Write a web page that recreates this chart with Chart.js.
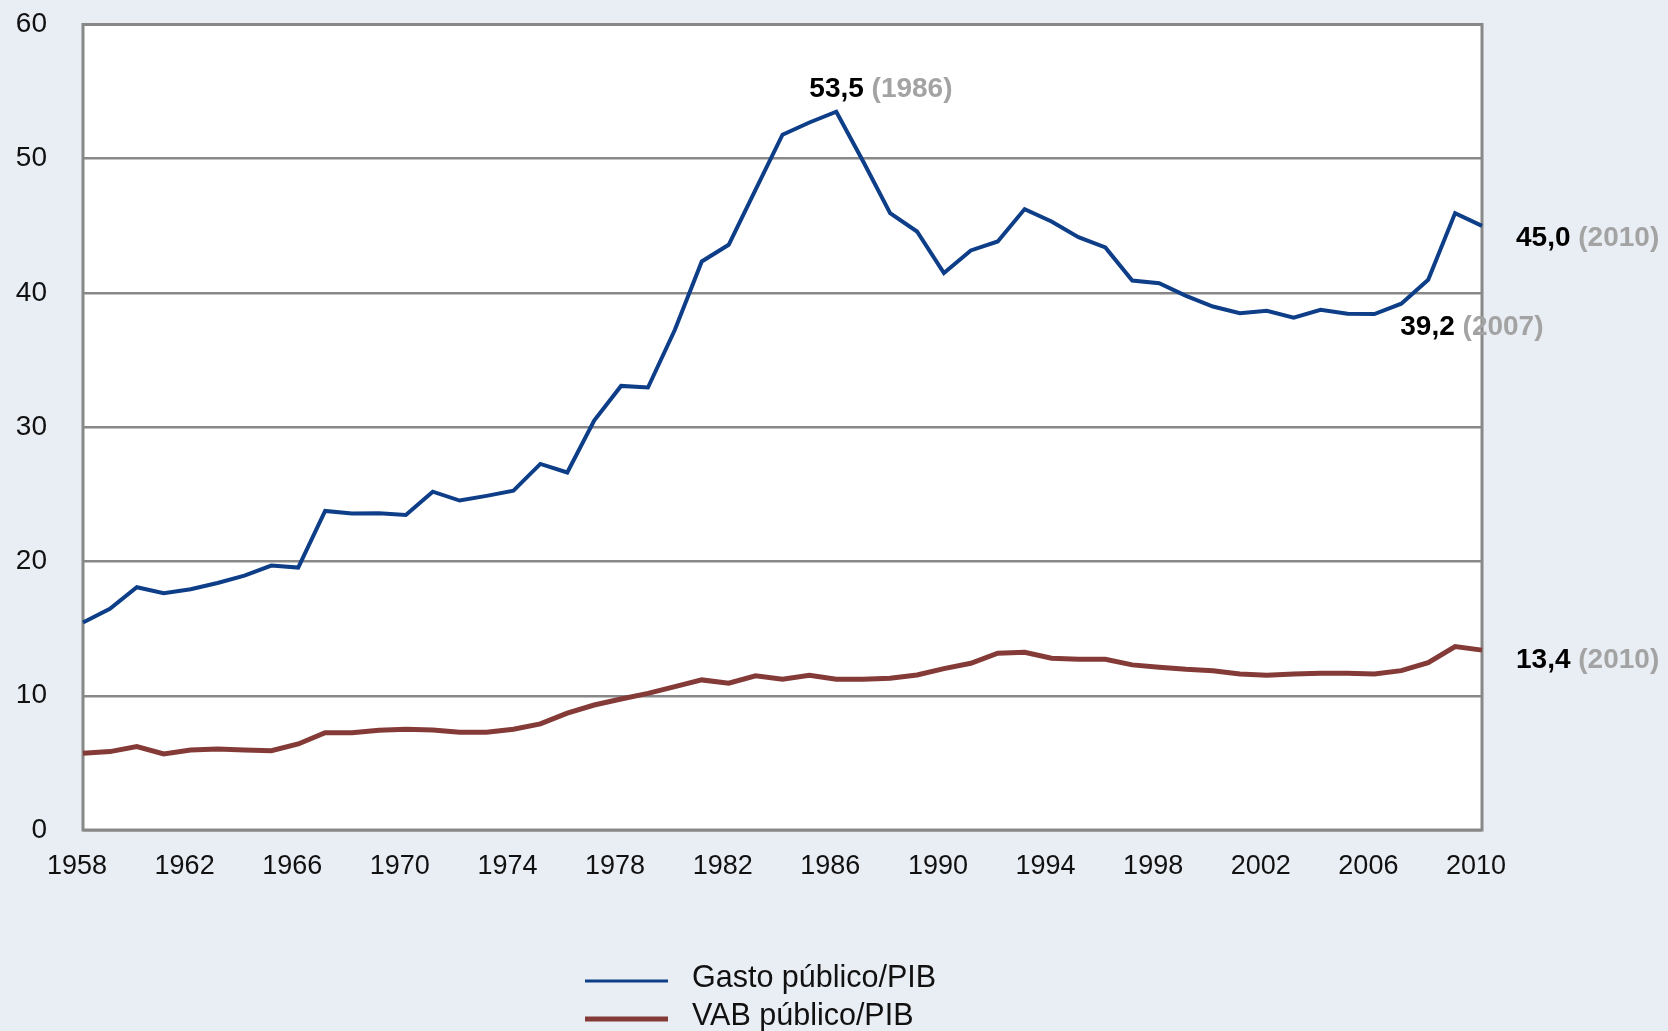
<!DOCTYPE html>
<html>
<head>
<meta charset="utf-8">
<script src="https://cdn.jsdelivr.net/npm/chart.js@4.4.1/dist/chart.umd.min.js"></script>
<style>
  html, body { margin: 0; padding: 0; background: #e9edf4; }
  canvas { display: block; }
</style>
</head>
<body>
<canvas id="myChart" width="1668" height="1031"></canvas>
<script>
// years on the x axis
const years = [];
for (let y = 1958; y <= 2010; y++) years.push(y);

// Gasto público / PIB (%)
const gasto = [
  15.45, 16.47, 18.08, 17.63, 17.93, 18.4, 18.95, 19.7, 19.55, 23.77,
  23.57, 23.6, 23.47, 25.2, 24.54, 24.89, 25.28, 27.27, 26.63, 30.5,
  33.08, 32.96, 37.26, 42.35, 43.59, 47.7, 51.79, 52.7, 53.5, 49.8,
  45.95, 44.58, 41.48, 43.17, 43.84, 46.25, 45.33, 44.16, 43.39, 40.93,
  40.73, 39.79, 38.99, 38.5, 38.67, 38.17, 38.75, 38.45, 38.43, 39.2,
  40.98, 45.95, 45.0
];

// VAB público / PIB (%)
const vab = [
  5.71, 5.84, 6.21, 5.66, 5.96, 6.04, 5.96, 5.91, 6.41, 7.25,
  7.25, 7.43, 7.5, 7.45, 7.28, 7.28, 7.5, 7.9, 8.7, 9.31,
  9.76, 10.18, 10.68, 11.18, 10.93, 11.48, 11.23, 11.53, 11.23, 11.23,
  11.3, 11.55, 12.02, 12.42, 13.17, 13.24, 12.79, 12.72, 12.72, 12.3,
  12.12, 11.97, 11.87, 11.62, 11.53, 11.62, 11.67, 11.67, 11.62, 11.87,
  12.47, 13.66, 13.4
];

const seriesNames = ['Gasto público/PIB', 'VAB público/PIB'];
const yTicks = [0, 10, 20, 30, 40, 50, 60];
const xLabelStep = 4;

// points that get a value label: [dataset index, year]
const callouts = [[0, 1986], [0, 2007], [0, 2010], [1, 2010]];

const BLUE = '#0d3e87';
const RED = '#843b37';
const GRID = '#888888';
const FONT = '"Liberation Sans", Arial, sans-serif';

// where each callout sits relative to its point
const calloutOffset = {
  '0-1986': [-27, -22],
  '0-2007': [-1, 24],
  '0-2010': [34, 12],
  '1-2010': [34, 10]
};

const plotFrame = {
  id: 'plotFrame',
  beforeDraw(chart) {
    const a = chart.chartArea, ctx = chart.ctx;
    ctx.save();
    ctx.fillStyle = '#ffffff';
    ctx.fillRect(a.left, a.top, a.right - a.left, a.bottom - a.top);
    ctx.restore();
  },
  beforeDatasetsDraw(chart) {
    const a = chart.chartArea, ctx = chart.ctx;
    ctx.save();
    ctx.strokeStyle = GRID;
    ctx.lineWidth = 3;
    ctx.strokeRect(a.left, a.top, a.right - a.left, a.bottom - a.top);
    ctx.restore();
  }
};

const labels = {
  id: 'labels',
  afterDraw(chart) {
    const ctx = chart.ctx;
    const xs = chart.scales.x, ys = chart.scales.y;
    ctx.save();
    ctx.font = 'bold 28px ' + FONT;
    ctx.textBaseline = 'middle';
    ctx.textAlign = 'left';
    callouts.forEach(([di, yr]) => {
      const idx = years.indexOf(yr);
      const v = chart.data.datasets[di].data[idx];
      const off = calloutOffset[di + '-' + yr];
      const px = xs.getPixelForValue(idx) + off[0];
      const py = ys.getPixelForValue(v) + off[1];
      const num = v.toFixed(1).replace('.', ',');
      ctx.fillStyle = '#000000';
      ctx.fillText(num, px, py);
      const w = ctx.measureText(num + ' ').width;
      ctx.fillStyle = '#a3a3a3';
      ctx.fillText('(' + yr + ')', px + w, py);
    });

    // legend, stacked
    ctx.font = '30.5px ' + FONT;
    const rows = [981, 1019];
    chart.data.datasets.forEach((ds, i) => {
      ctx.strokeStyle = ds.borderColor;
      ctx.lineWidth = i === 0 ? 3 : 5;
      ctx.beginPath();
      ctx.moveTo(585, rows[i]);
      ctx.lineTo(668, rows[i]);
      ctx.stroke();
      ctx.fillStyle = '#111111';
      ctx.fillText(ds.label, 692, rows[i] - 2);
    });
    ctx.restore();
  }
};

const ctx = document.getElementById('myChart').getContext('2d');
const myChart = new Chart(ctx, {
  type: 'line',
  data: {
    labels: years,
    datasets: [{
      label: seriesNames[0],
      data: gasto,
      borderColor: BLUE,
      borderWidth: 4,
      pointRadius: 0,
      tension: 0
    }, {
      label: seriesNames[1],
      data: vab,
      borderColor: RED,
      borderWidth: 5,
      pointRadius: 0,
      tension: 0
    }]
  },
  options: {
    responsive: false,
    animation: false,
    layout: { padding: { left: 0, top: 24.5, right: 186, bottom: 0 } },
    plugins: {
      legend: { display: false },
      tooltip: { enabled: false }
    },
    scales: {
      x: {
        type: 'category',
        offset: false,
        grid: { display: false },
        border: { display: false },
        afterFit: s => { s.height = 201; },
        ticks: {
          autoSkip: false,
          maxRotation: 0,
          padding: 12,
          labelOffset: -6,
          color: '#111111',
          font: { family: FONT, size: 27 },
          callback: (val, i) => ((years[i] - years[0]) % xLabelStep === 0 ? String(years[i]) : null)
        }
      },
      y: {
        min: yTicks[0],
        max: yTicks[yTicks.length - 1],
        border: { display: false },
        afterFit: s => { s.width = 83; },
        afterBuildTicks: s => { s.ticks = yTicks.map(v => ({ value: v })); },
        grid: { color: GRID, lineWidth: 2.5, drawTicks: true, tickLength: 36, tickColor: 'rgba(0,0,0,0)' },
        ticks: {
          padding: 0,
          color: '#111111',
          font: { family: FONT, size: 28 }
        }
      }
    }
  },
  plugins: [plotFrame, labels]
});
</script>
</body>
</html>
